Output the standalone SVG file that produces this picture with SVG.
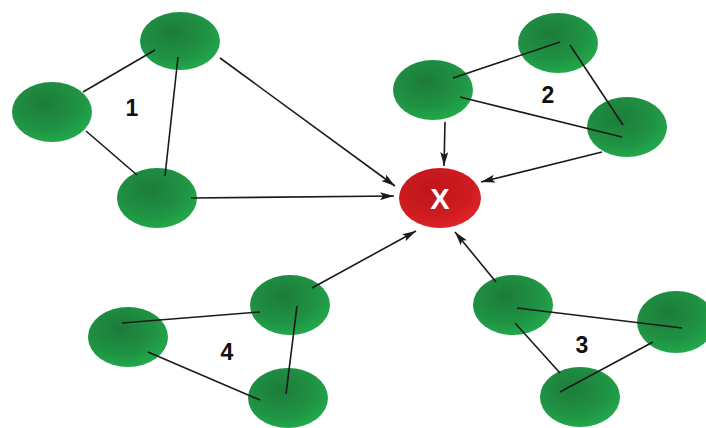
<svg xmlns="http://www.w3.org/2000/svg" width="706" height="428" viewBox="0 0 706 428">
  <style>
    .node { fill: url(#greenGrad); }
    .hub { fill: url(#redGrad); }
    .edge { stroke: #1a1a1a; stroke-width: 1.6; fill: none; }
    .arrow { stroke: #1a1a1a; stroke-width: 1.6; fill: none; marker-end: url(#head); }
    .num { font-family: "Liberation Sans", Arial, sans-serif; font-weight: bold; font-size: 23px; fill: #111; text-anchor: middle; }
    .hubtxt { font-family: "Liberation Sans", Arial, sans-serif; font-weight: bold; font-size: 29px; fill: #fff; text-anchor: middle; }
  </style>
  <defs>
    <radialGradient id="greenGrad" cx="0.4" cy="0.35" r="0.7">
      <stop offset="0" stop-color="#1d7c3b"/>
      <stop offset="0.6" stop-color="#1f9143"/>
      <stop offset="1" stop-color="#23ab4c"/>
    </radialGradient>
    <radialGradient id="redGrad" cx="0.4" cy="0.35" r="0.7">
      <stop offset="0" stop-color="#bd161b"/>
      <stop offset="0.7" stop-color="#d01c20"/>
      <stop offset="1" stop-color="#e0262a"/>
    </radialGradient>
    <marker id="head" viewBox="0 0 14 8" refX="14" refY="4" markerWidth="14" markerHeight="8" markerUnits="userSpaceOnUse" orient="auto">
      <path d="M0,0 L14,4 L0,8 L3,4 Z" fill="#1a1a1a"/>
    </marker>
  </defs>

  <rect width="706" height="428" fill="#fff"/>

  <!-- cluster 1 nodes -->
  <g id="n1a"><ellipse class="node" cx="180" cy="41" rx="40" ry="29"/></g>
  <g id="n1b"><ellipse class="node" cx="52" cy="112" rx="40" ry="30"/></g>
  <g id="n1c"><ellipse class="node" cx="157" cy="198" rx="40" ry="30"/></g>
  <g id="label1"><text class="num" x="132" y="116">1</text></g>

  <!-- cluster 2 nodes -->
  <g id="n2a"><ellipse class="node" cx="433" cy="90" rx="40" ry="30"/></g>
  <g id="n2b"><ellipse class="node" cx="558" cy="43" rx="40" ry="30"/></g>
  <g id="n2c"><ellipse class="node" cx="627" cy="127" rx="40" ry="30"/></g>
  <g id="label2"><text class="num" x="548" y="103">2</text></g>

  <!-- cluster 3 nodes -->
  <g id="n3a"><ellipse class="node" cx="513" cy="305" rx="40" ry="30"/></g>
  <g id="n3b"><ellipse class="node" cx="676" cy="322" rx="39" ry="31"/></g>
  <g id="n3c"><ellipse class="node" cx="580" cy="397" rx="40" ry="30"/></g>
  <g id="label3"><text class="num" x="582" y="353">3</text></g>

  <!-- cluster 4 nodes -->
  <g id="n4a"><ellipse class="node" cx="290" cy="305" rx="40" ry="30"/></g>
  <g id="n4b"><ellipse class="node" cx="128" cy="337" rx="40" ry="30"/></g>
  <g id="n4c"><ellipse class="node" cx="288" cy="398" rx="40" ry="30"/></g>
  <g id="label4"><text class="num" x="227" y="360">4</text></g>

  <!-- central node -->
  <g id="hub">
    <ellipse class="hub" cx="440" cy="198" rx="41" ry="30"/>
    <text class="hubtxt" x="440" y="209">X</text>
  </g>

  <!-- connectors, drawn over the nodes so they run into the node bodies -->
  <g id="connectors">
    <!-- cluster 1 -->
    <line class="edge" x1="83" y1="92" x2="155" y2="50"/>
    <line class="edge" x1="86" y1="131" x2="137" y2="175"/>
    <line class="edge" x1="178" y1="57" x2="165" y2="176"/>
    <line class="arrow" x1="220" y1="58" x2="395" y2="186"/>
    <line class="arrow" x1="191" y1="198" x2="394" y2="196"/>
    <!-- cluster 2 -->
    <line class="edge" x1="453" y1="78" x2="560" y2="42"/>
    <line class="edge" x1="570" y1="45" x2="623" y2="125"/>
    <line class="edge" x1="460" y1="97" x2="622" y2="137"/>
    <line class="arrow" x1="445" y1="122" x2="444" y2="166"/>
    <line class="arrow" x1="602" y1="152" x2="481" y2="182"/>
    <!-- cluster 3 -->
    <line class="edge" x1="517" y1="308" x2="682" y2="328"/>
    <line class="edge" x1="515" y1="323" x2="560" y2="373"/>
    <line class="edge" x1="653" y1="342" x2="560" y2="392"/>
    <line class="arrow" x1="496" y1="282" x2="455" y2="232"/>
    <!-- cluster 4 -->
    <line class="edge" x1="122" y1="323" x2="260" y2="312"/>
    <line class="edge" x1="148" y1="352" x2="260" y2="400"/>
    <line class="edge" x1="297" y1="306" x2="286" y2="394"/>
    <line class="arrow" x1="312" y1="288" x2="416" y2="231"/>
  </g>
</svg>
